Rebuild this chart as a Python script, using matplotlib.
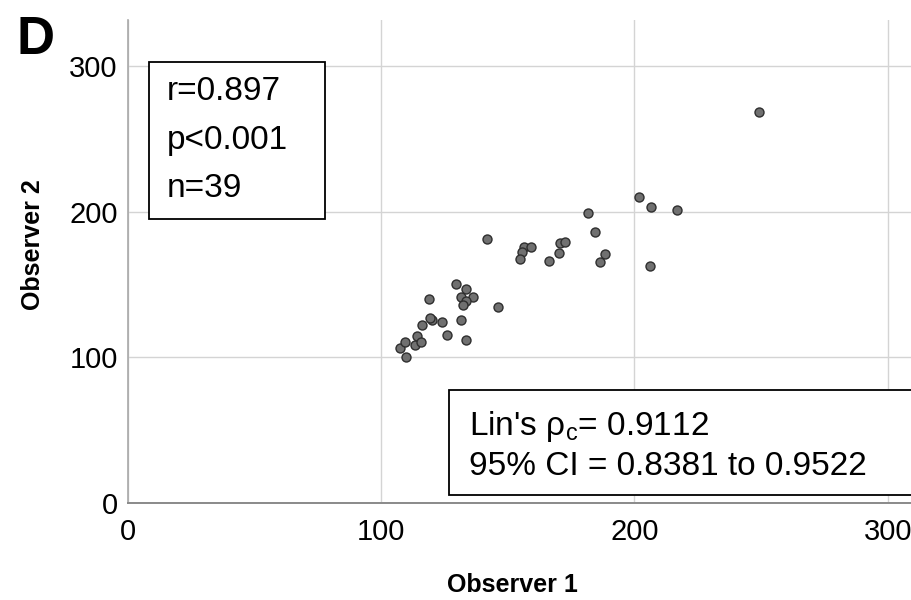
import matplotlib
matplotlib.use("Agg")
import matplotlib.pyplot as plt
from matplotlib.patches import Rectangle

plt.rcParams['font.family'] = ['Liberation Sans', 'DejaVu Sans']
plt.rcParams['mathtext.fontset'] = 'custom'
plt.rcParams['mathtext.rm'] = 'Liberation Sans'
plt.rcParams['mathtext.it'] = 'Liberation Sans'

obs1 = [107.4, 109.5, 109.7, 113.6, 114.2, 115.8, 116.3, 120.3, 119.3, 123.9,
        126.2, 131.4, 133.5, 119.1, 129.6, 133.5, 131.7, 136.3, 133.5, 132.5,
        146.0, 141.7, 156.6, 159.1, 155.6, 154.8, 166.1, 170.6, 172.7, 170.3,
        181.7, 184.3, 188.2, 186.4, 201.9, 206.4, 216.8, 206.0, 249.2]
obs2 = [106.4, 110.5, 100.2, 108.4, 114.8, 110.5, 122.5, 125.6, 127.0, 124.2,
        115.0, 125.6, 111.9, 140.2, 150.1, 147.1, 141.4, 141.4, 138.6, 135.6,
        134.2, 181.4, 176.0, 175.7, 172.3, 167.5, 166.3, 178.7, 179.1, 171.8,
        198.7, 185.8, 170.9, 165.2, 210.2, 203.0, 201.1, 162.9, 268.4]

stats_lines = ["r=0.897", "p<0.001", "n=39"]
lin_lines = ["Lin's ρ$_{\\mathrm{c}}$= 0.9112", "95% CI = 0.8381 to 0.9522"]

W, H = 911, 600


def fx(px):
    return px / W


def fy(py):
    return 1 - py / H


fig = plt.figure(figsize=(9.11, 6.0), dpi=100)
ax = fig.add_axes([fx(127.5), fy(503), fx(911 - 127.5), (503 - 20) / H])

ax.scatter(obs1, obs2, s=42, facecolor='#707070', edgecolor='#2e2e2e',
           linewidth=1.0, zorder=3)

ax.set_xlim(0, 309.1)
ax.set_ylim(0, 331.5)
ax.set_xticks([0, 100, 200, 300])
ax.set_yticks([0, 100, 200, 300])
ax.grid(True, color='#d4d4d4', linewidth=1.0, zorder=0)
ax.set_axisbelow(True)
ax.tick_params(length=0, labelsize=21, colors='black')
ax.tick_params(axis='x', pad=11)
ax.tick_params(axis='y', pad=7)
for s in ['top', 'right']:
    ax.spines[s].set_visible(False)
ax.spines['left'].set_color('#a8a8a8')
ax.spines['bottom'].set_color('#8a8a8a')
ax.spines['left'].set_linewidth(1.2)
ax.spines['bottom'].set_linewidth(1.4)

fig.text(fx(512), fy(592), "Observer 1", fontsize=18, fontweight='bold',
         ha='center', va='baseline')
fig.text(fx(33), fy(245), "Observer 2", fontsize=18, fontweight='bold',
         ha='center', va='center', rotation=90)
fig.text(fx(16), fy(54), "D", fontsize=38, fontweight='bold',
         ha='left', va='baseline')

# statistics box (upper left)
fig.patches.append(Rectangle((fx(149), fy(219)), fx(325 - 149), (219 - 62) / H,
                             transform=fig.transFigure, facecolor='white',
                             edgecolor='black', linewidth=1.3, zorder=5))
for i, line in enumerate(stats_lines):
    fig.text(fx(167), fy(100 + 48.5 * i), line, fontsize=24,
             ha='left', va='baseline', zorder=6)

# Lin's concordance box (lower right)
fig.patches.append(Rectangle((fx(449), fy(495)), fx(960 - 449), (495 - 390) / H,
                             transform=fig.transFigure, facecolor='white',
                             edgecolor='black', linewidth=1.3, zorder=5))
for i, line in enumerate(lin_lines):
    fig.text(fx(469), fy(435 + 40 * i), line, fontsize=24,
             ha='left', va='baseline', zorder=6)

fig.savefig("out.png", dpi=100)
